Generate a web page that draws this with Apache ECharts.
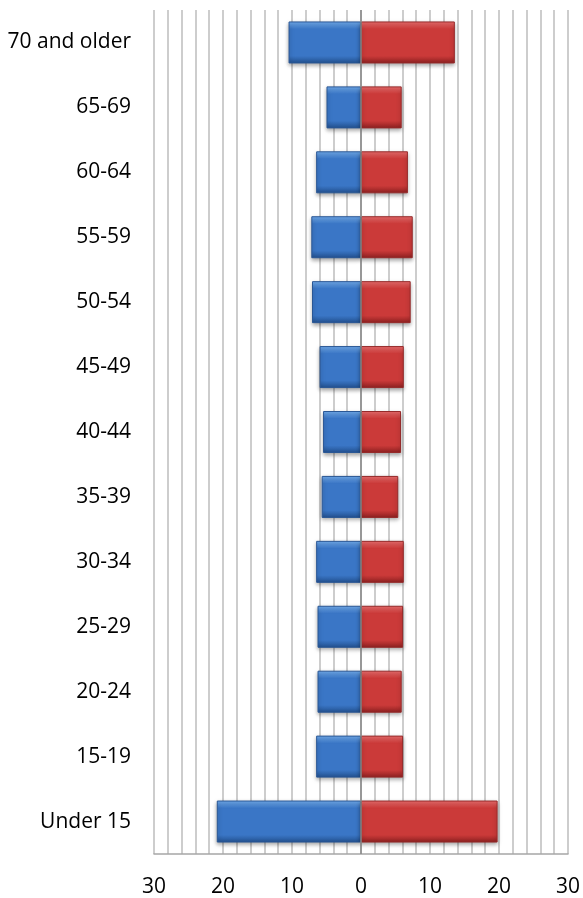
<!DOCTYPE html>
<html>
<head>
<meta charset="utf-8">
<script src="https://cdn.jsdelivr.net/npm/echarts@6/dist/echarts.min.js"></script>
<style>
    html, body {margin: 0; padding: 0; background: #fff;}
    #chart {width: 583px; height: 898px;}
</style>
</head>
<body>
<div id="chart"></div>
<script>
// age groups, top to bottom
const ageGroups = ['70 and older', '65-69', '60-64', '55-59', '50-54', '45-49', '40-44',
    '35-39', '30-34', '25-29', '20-24', '15-19', 'Under 15']
// left side (blue), read as positive values
const leftValues = [10.5, 5.0, 6.5, 7.2, 7.1, 6.0, 5.5, 5.7, 6.5, 6.3, 6.3, 6.5, 20.9]
// right side (red)
const rightValues = [13.6, 5.9, 6.8, 7.5, 7.2, 6.2, 5.8, 5.4, 6.2, 6.1, 5.9, 6.1, 19.8]
// x axis range and tick step
const axisMin = -30
const axisMax = 30
const gridStep = 2
const labelStep = 10

// vertical gradient to fake the bevelled look
const bevel = (light, main, dark) => new echarts.graphic.LinearGradient(0, 0, 0, 1, [
    {offset: 0, color: light},
    {offset: 0.18, color: main},
    {offset: 0.82, color: main},
    {offset: 1, color: dark},
])

const chart = echarts.init(document.getElementById('chart'))

const option = {
    animation: false,
    grid: {
        left: 154,
        right: 13,
        top: 10,
        bottom: 41,
    },
    xAxis: {
        type: 'value',
        min: axisMin,
        max: axisMax,
        interval: gridStep,
        axisLine: {
            show: true,
            lineStyle: {color: '#a6a6a6', width: 1.5},
        },
        axisTick: {show: false},
        axisLabel: {
            margin: 23,
            color: '#000',
            fontFamily: 'Open Sans',
            fontSize: 21,
            showMinLabel: true,
            showMaxLabel: true,
            formatter: (v) => (v % labelStep === 0 ? String(Math.abs(v)) : ''),
        },
        splitLine: {
            show: true,
            lineStyle: {color: '#bdbdbd', width: 1.5},
        },
    },
    yAxis: {
        type: 'category',
        inverse: true,
        data: ageGroups,
        axisLine: {show: false},
        axisTick: {show: false},
        axisLabel: {
            margin: 23,
            padding: [0, 0, 5, 0],
            color: '#000',
            fontFamily: 'Open Sans',
            fontSize: 21,
        },
    },
    series: [
        {
            name: 'left',
            type: 'bar',
            barWidth: 42,
            barGap: '-100%',
            data: leftValues.map(v => -v),
            itemStyle: {
                color: bevel('#74b0f2', '#3a76c6', '#22508e'),
                borderColor: '#2a5795',
                borderWidth: 1,
                shadowColor: 'rgba(0,0,0,0.35)',
                shadowBlur: 4,
                shadowOffsetY: 2,
            },
            markLine: {
                silent: true,
                symbol: ['none', 'none'],
                label: {show: false},
                lineStyle: {color: '#878787', width: 1.5, type: 'solid'},
                data: [{xAxis: 0}],
            },
        },
        {
            name: 'right',
            type: 'bar',
            barWidth: 42,
            barGap: '-100%',
            data: rightValues,
            itemStyle: {
                color: bevel('#f07070', '#cb3a39', '#8c2020'),
                borderColor: '#952a2a',
                borderWidth: 1,
                shadowColor: 'rgba(0,0,0,0.35)',
                shadowBlur: 4,
                shadowOffsetY: 2,
            },
        },
    ],
}
chart.setOption(option)
</script>
</body>
</html>
